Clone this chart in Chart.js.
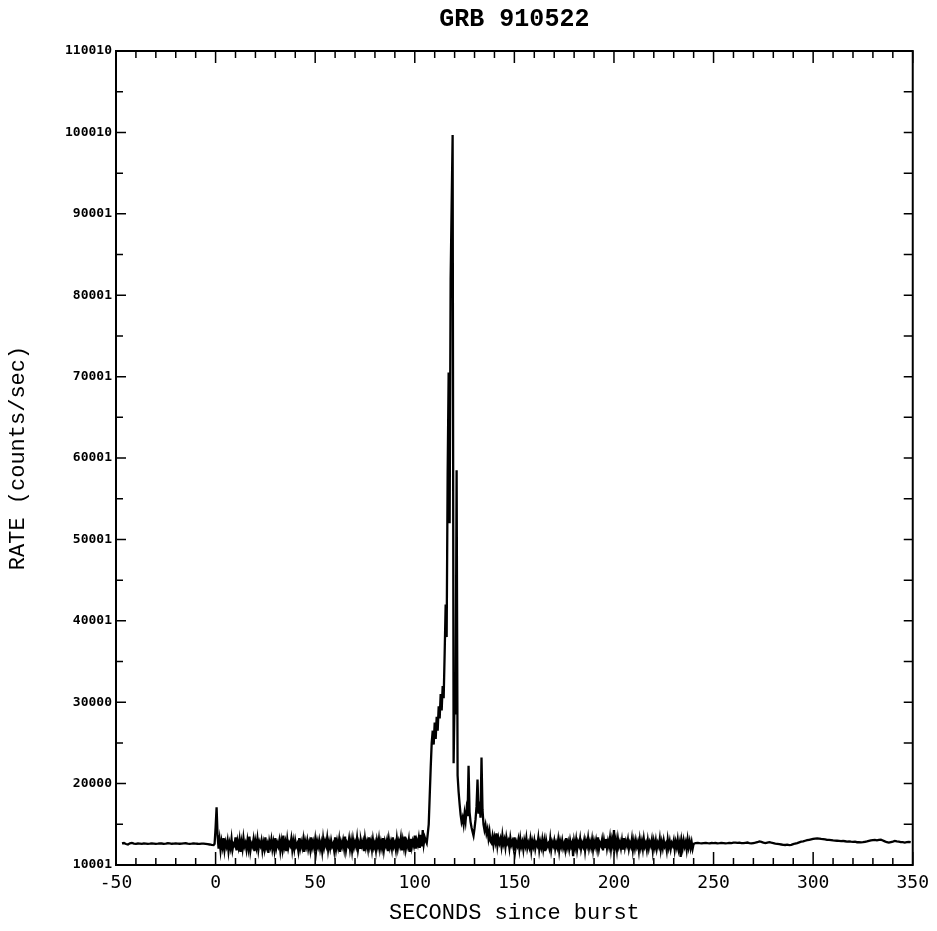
<!DOCTYPE html>
<html><head><meta charset="utf-8">
<script src="https://cdn.jsdelivr.net/npm/chart.js@4.4.1/dist/chart.umd.min.js"></script>
<style>html,body{margin:0;padding:0;background:#fff}canvas{display:block}</style>
</head><body>
<canvas id="c" width="937" height="931"></canvas>
<script>
// ---- text ----
const chartTitle = 'GRB 910522';
const xAxisTitle = 'SECONDS since burst';
const yAxisTitle = 'RATE (counts/sec)';
const xTickLabels = ['-50', '0', '50', '100', '150', '200', '250', '300', '350'];
const yTickLabels = ['10001', '20000', '30000', '40001', '50001', '60001', '70001', '80001', '90001', '100010', '110010'];
const xMinorStep = 10;

// ---- data (counts/sec), each segment: start time (s), sample step (s), values ----
const preBurstStart = -47, preBurstStep = 1;
const preBurstRate = [
  12650, 12700, 12580, 12520, 12660, 12720, 12640, 12600, 12640, 12620,
  12600, 12660, 12640, 12600, 12620, 12660, 12640, 12600, 12620, 12650,
  12640, 12600, 12630, 12670, 12650, 12610, 12620, 12660, 12640, 12610,
  12620, 12650, 12670, 12630, 12600, 12620, 12660, 12640, 12610, 12600,
  12630, 12620, 12590, 12560, 12520, 12470, 12450
];

const precursorStart = -0.5, precursorStep = 0.5;
const precursorRate = [12600, 14600, 17100, 13600];

const earlyStart = 1.5, earlyStep = 0.5;
const earlyRate = [
  12000, 13100, 11800, 12900, 12200, 13300, 11900, 12800, 12300, 13000,
  11700, 12700, 12100, 13200, 11900, 12600, 12400, 13400, 11800, 12900,
  12200, 13100, 11600, 12800, 12000, 13300, 12300, 12700, 11900, 13000,
  12100, 13500, 11800, 12600, 12300, 13100, 11700, 12900, 12200, 13200,
  11900, 12800, 12400, 13000, 11800, 12700, 12000, 13400, 12200, 12600,
  11500, 12900, 12300, 13100, 12000, 12800, 11900, 13300, 12100, 12700,
  12300, 13000, 11800, 12900, 12000, 13600, 12200, 12800, 11700, 13100,
  12100, 12700, 12400, 13200, 11900, 12900, 12000, 13000, 12300, 12600,
  11800, 13300, 12100, 12800, 12200, 13100, 11600, 12900, 12300, 13000,
  12000, 12700, 11900, 13400, 12200, 12800, 12100, 13100, 11800, 12900,
  12300, 13000, 12000, 12700, 11700, 13200, 12200, 12900, 12400, 13300,
  11900, 12800, 12100, 13000, 12300, 12600, 11800, 13400, 12000, 12900,
  12200, 13100, 11600, 12800, 12300, 13000, 12100, 13500, 11900, 12700,
  12400, 13200, 12000, 12900, 11800, 13100, 12200, 12800, 12300, 13300,
  11900, 12700, 12100, 13000, 12400, 12900, 11700, 13200, 12200, 12800,
  12000, 13400, 12300, 12900, 11900, 13100, 12200, 12700, 11800, 13000,
  12300, 13200, 12000, 12800, 12100, 13300, 11900, 12900, 12400, 13000,
  11700, 13100, 12200, 12800, 12000, 13400, 12300, 12700, 11900, 13200,
  12100, 12900, 12400, 13300, 11800, 13000, 12200, 13500, 12000, 12800,
  12300, 13100, 11600, 13200, 12200, 12900, 12400, 13600, 12000, 13000,
  12500, 13300, 12100, 13700, 12300, 14300, 12600, 13400, 13000, 12700
];

const burstStart = 106.5, burstStep = 0.5;
const burstRate = [
  13800, 15000, 18500, 22000, 25000, 26500, 24800, 27500, 25500, 28200,
  26500, 29500, 28000, 31000, 29000, 32000, 30500, 36000, 42000, 38000,
  58000, 70500, 52000, 82000, 91000, 99700, 22500, 31000, 28500, 58500,
  21000, 19000, 17500, 16200, 15300, 15800, 15000, 16300, 15400, 16800,
  16000, 22200, 16500, 15300, 14600, 14100, 13600, 14500, 15600, 17200,
  20500, 16300, 17800, 15800, 23200, 16800, 15000, 14300, 14900, 13900,
  14400, 13300, 14100, 12900
];

const lateStart = 138.5, lateStep = 0.5;
const lateRate = [
  12700, 13500, 12500, 13400, 12800, 13900, 12400, 13300, 12700,
  13200, 12300, 13600, 12600, 13100, 12200, 13400, 12700, 13000, 12100,
  13300, 12500, 12900, 12200, 13400, 11900, 12800, 12400, 13100, 12000,
  13200, 12300, 12800, 11900, 13000, 12400, 13300, 12100, 12700, 12200,
  13100, 11800, 12900, 12300, 13000, 12000, 12700, 12400, 13300, 11900,
  12800, 12200, 13100, 12000, 12900, 11700, 13000, 12300, 12600, 12100,
  13200, 11900, 12800, 12400, 13000, 12000, 12700, 12200, 13100, 11800,
  12900, 12300, 13000, 12100, 12600, 11900, 13300, 12200, 12800, 12000,
  13000, 12300, 12700, 11100, 12900, 12200, 13100, 11900, 12800, 12400,
  13200, 12000, 12700, 12300, 13000, 11800, 12900, 12400, 13300, 12100,
  12800, 12200, 13100, 11900, 12900, 12300, 13000, 12100, 13400, 12000,
  12700, 12400, 13100, 11800, 13000, 12200, 13200, 12100, 12900, 12300,
  13300, 12000, 13100, 12400, 14300, 12200, 13000, 11900, 13200, 12300,
  12800, 12100, 13000, 11900, 13300, 12200, 12900, 12400, 13100, 12000,
  12700, 12300, 13200, 11900, 12900, 12100, 13000, 12300, 12800, 11800,
  13100, 12200, 12900, 12000, 13200, 12300, 12700, 11900, 13000, 12100,
  12800, 12400, 13100, 11800, 12900, 12200, 13000, 12000, 12700, 12300,
  13200, 11900, 12800, 12100, 13000, 12300, 12600, 11800, 13100, 12200,
  12900, 12000, 12700, 12400, 13000, 11900, 12800, 12200, 13100, 12000,
  12700, 11000, 12900, 12100, 13000, 12300, 12800, 11900, 13100, 12200,
  12900, 12100, 12800, 12000, 12600
];

const postStart = 241, postStep = 1;
const postRate = [
  12700, 12720, 12680, 12650, 12700, 12730, 12690, 12660, 12700, 12680,
  12700, 12660, 12690, 12730, 12700, 12650, 12680, 12720, 12700, 12740,
  12760, 12720, 12750, 12700, 12680, 12720, 12760, 12700, 12660, 12700,
  12740, 12800, 12900, 12850, 12760, 12700, 12760, 12800, 12740, 12700,
  12640, 12600, 12560, 12520, 12480, 12460, 12500, 12450, 12480, 12560,
  12640, 12700, 12780, 12860, 12900, 12980, 13050, 13100, 13150, 13200,
  13250, 13280, 13240, 13200, 13180, 13150, 13100, 13080, 13060, 13020,
  13000, 12980, 12960, 12940, 12960, 12920, 12880, 12900, 12860, 12840,
  12860, 12800, 12820, 12780, 12800, 12850, 12900, 12960, 13020, 13060,
  13080, 13040, 13100, 13120, 13020, 12900, 12800, 12760, 12820, 12880,
  12950, 12900, 12860, 12820, 12800, 12760, 12800, 12840, 12800
];

// ---- build points (sample time from segment start + index * step) ----
function segment(start, step, values) {
  return values.map((v, i) => ({ x: start + i * step, y: v }));
}
const points = [].concat(
  segment(preBurstStart, preBurstStep, preBurstRate),
  segment(precursorStart, precursorStep, precursorRate),
  segment(earlyStart, earlyStep, earlyRate),
  segment(burstStart, burstStep, burstRate),
  segment(lateStart, lateStep, lateRate),
  segment(postStart, postStep, postRate)
);

const xTickValues = xTickLabels.map(Number);
const yTickValues = yTickLabels.map(Number);

// frame + inward tick marks
const frameTicks = {
  id: 'frameTicks',
  afterDatasetsDraw(chart) {
    const { ctx, chartArea: a, scales } = chart;
    const xs = scales.x, ys = scales.y;
    ctx.save();
    ctx.strokeStyle = '#000';
    ctx.lineWidth = 1.5;
    ctx.beginPath();
    const x0 = xTickValues[0], x1 = xTickValues[xTickValues.length - 1];
    for (let v = x0; v <= x1; v += xMinorStep) {
      const px = xs.getPixelForValue(v);
      const major = xTickValues.includes(v);
      ctx.moveTo(px, a.bottom); ctx.lineTo(px, a.bottom - (major ? 13 : 7));
      ctx.moveTo(px, a.top); ctx.lineTo(px, a.top + (major ? 12 : 7));
    }
    for (let i = 0; i < yTickValues.length; i++) {
      const py = ys.getPixelForValue(yTickValues[i]);
      ctx.moveTo(a.left, py); ctx.lineTo(a.left + 10, py);
      ctx.moveTo(a.right, py); ctx.lineTo(a.right - 9, py);
      if (i < yTickValues.length - 1) {
        const pm = ys.getPixelForValue((yTickValues[i] + yTickValues[i + 1]) / 2);
        ctx.moveTo(a.left, pm); ctx.lineTo(a.left + 7, pm);
        ctx.moveTo(a.right, pm); ctx.lineTo(a.right - 9, pm);
      }
    }
    ctx.stroke();
    ctx.lineWidth = 2;
    ctx.strokeRect(a.left, a.top, a.right - a.left, a.bottom - a.top);
    ctx.restore();
  }
};

new Chart(document.getElementById('c'), {
  type: 'line',
  data: {
    datasets: [{
      data: points,
      borderColor: '#000',
      borderWidth: 2.3,
      pointRadius: 0,
      tension: 0,
      fill: false
    }]
  },
  options: {
    responsive: false,
    animation: false,
    devicePixelRatio: 1,
    layout: { padding: { top: 0, right: 22, bottom: 0, left: 0 } },
    plugins: {
      legend: { display: false },
      tooltip: { enabled: false },
      title: {
        display: true,
        fullSize: false,
        text: chartTitle,
        color: '#000',
        font: { family: 'Liberation Mono', size: 25, weight: 'bold', lineHeight: 1.2 },
        padding: { top: 5, bottom: 16 }
      }
    },
    scales: {
      x: {
        type: 'linear',
        min: xTickValues[0],
        max: xTickValues[xTickValues.length - 1],
        grid: { display: false, drawTicks: false },
        border: { display: false },
        afterBuildTicks: s => { s.ticks = xTickValues.map(v => ({ value: v })); },
        afterFit: s => { s.height = 66; },
        ticks: {
          autoSkip: false, maxRotation: 0, color: '#000', padding: 8,
          font: { family: 'DejaVu Sans Mono', size: 18 },
          callback: (v, i) => xTickLabels[i]
        },
        title: {
          display: true, text: xAxisTitle, color: '#000',
          font: { family: 'Liberation Mono', size: 22, lineHeight: 1.2 },
          padding: { top: 0, bottom: 5 }
        }
      },
      y: {
        type: 'linear',
        min: yTickValues[0],
        max: yTickValues[yTickValues.length - 1],
        grid: { display: false, drawTicks: false },
        border: { display: false },
        afterBuildTicks: s => { s.ticks = yTickValues.map(v => ({ value: v })); },
        afterFit: s => { s.width = 116; },
        ticks: {
          autoSkip: false, color: '#000', padding: 4,
          font: { family: 'DejaVu Sans Mono', size: 13, weight: 'bold' },
          callback: (v, i) => yTickLabels[i]
        },
        title: {
          display: true, text: yAxisTitle, color: '#000',
          font: { family: 'Liberation Mono', size: 22, lineHeight: 1.2 },
          padding: { top: 5, bottom: 0 }
        }
      }
    }
  },
  plugins: [frameTicks]
});
</script>
</body></html>
